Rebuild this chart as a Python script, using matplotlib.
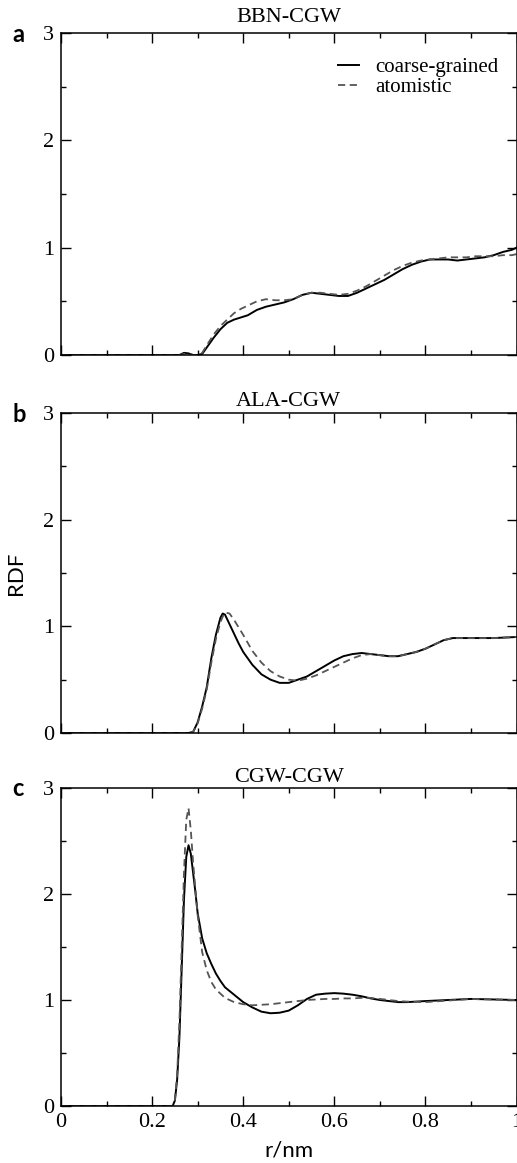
import matplotlib
matplotlib.use("Agg")
import matplotlib.pyplot as plt
from matplotlib.ticker import MultipleLocator

# ---- data ----
r_a = [0, 0.26, 0.27, 0.28, 0.29, 0.30, 0.31, 0.32, 0.335, 0.35, 0.365, 0.38, 0.395, 0.41,
       0.43, 0.45, 0.47, 0.49, 0.51, 0.53, 0.55, 0.57, 0.59, 0.61, 0.63, 0.65, 0.67, 0.69,
       0.71, 0.73, 0.75, 0.77, 0.79, 0.81, 0.83, 0.85, 0.87, 0.89, 0.91, 0.93, 0.95, 0.97,
       0.99, 1.0]
cg_a = [0, 0, 0.02, 0.015, 0.0, 0.0, 0.01, 0.07, 0.16, 0.24, 0.30, 0.33, 0.35, 0.37,
        0.42, 0.45, 0.47, 0.49, 0.52, 0.56, 0.58, 0.57, 0.56, 0.55, 0.55, 0.58, 0.62, 0.66,
        0.70, 0.75, 0.80, 0.84, 0.87, 0.89, 0.89, 0.89, 0.88, 0.89, 0.90, 0.91, 0.93, 0.96,
        0.98, 1.0]
at_a = [0, 0, 0.01, 0.01, 0.0, 0.0, 0.02, 0.09, 0.19, 0.27, 0.33, 0.39, 0.43, 0.46,
        0.50, 0.52, 0.51, 0.51, 0.52, 0.56, 0.58, 0.58, 0.57, 0.56, 0.57, 0.60, 0.64, 0.69,
        0.74, 0.79, 0.83, 0.86, 0.88, 0.89, 0.90, 0.91, 0.91, 0.91, 0.92, 0.92, 0.92, 0.93,
        0.93, 0.94]

r_b = [0, 0.28, 0.29, 0.30, 0.31, 0.32, 0.33, 0.34, 0.35, 0.355, 0.36, 0.37, 0.38, 0.39,
       0.40, 0.42, 0.44, 0.46, 0.48, 0.50, 0.52, 0.54, 0.56, 0.58, 0.60, 0.62, 0.64, 0.66,
       0.68, 0.70, 0.72, 0.74, 0.76, 0.78, 0.80, 0.82, 0.84, 0.86, 0.90, 0.95, 1.0]
cg_b = [0, 0, 0.01, 0.10, 0.25, 0.43, 0.70, 0.92, 1.08, 1.12, 1.11, 1.02, 0.93, 0.84,
        0.76, 0.64, 0.55, 0.50, 0.47, 0.47, 0.50, 0.53, 0.58, 0.63, 0.68, 0.72, 0.74, 0.75,
        0.74, 0.73, 0.72, 0.72, 0.74, 0.76, 0.79, 0.83, 0.87, 0.89, 0.89, 0.89, 0.90]
at_b = [0, 0, 0.01, 0.09, 0.23, 0.41, 0.66, 0.88, 1.04, 1.09, 1.13, 1.12, 1.06, 0.99,
        0.92, 0.77, 0.66, 0.58, 0.53, 0.50, 0.49, 0.51, 0.54, 0.58, 0.62, 0.66, 0.70, 0.73,
        0.74, 0.73, 0.72, 0.72, 0.74, 0.76, 0.79, 0.83, 0.87, 0.89, 0.89, 0.89, 0.90]

r_c = [0, 0.245, 0.25, 0.255, 0.26, 0.265, 0.27, 0.275, 0.28, 0.285, 0.29, 0.295, 0.30,
       0.31, 0.32, 0.33, 0.34, 0.35, 0.36, 0.38, 0.40, 0.42, 0.44, 0.46, 0.48, 0.50, 0.52,
       0.54, 0.56, 0.58, 0.60, 0.62, 0.64, 0.66, 0.68, 0.70, 0.72, 0.74, 0.76, 0.80, 0.85,
       0.90, 0.95, 1.0]
cg_c = [0, 0, 0.05, 0.25, 0.65, 1.30, 1.95, 2.35, 2.46, 2.38, 2.20, 2.02, 1.82,
        1.58, 1.44, 1.34, 1.25, 1.18, 1.12, 1.05, 0.98, 0.93, 0.89, 0.875, 0.88, 0.90, 0.95,
        1.01, 1.05, 1.06, 1.065, 1.06, 1.05, 1.035, 1.015, 1.00, 0.99, 0.98, 0.98, 0.99, 1.00,
        1.01, 1.005, 1.00]
at_c = [0, 0, 0.05, 0.30, 0.80, 1.50, 2.20, 2.70, 2.81, 2.60, 2.30, 2.05, 1.80,
        1.45, 1.28, 1.17, 1.10, 1.06, 1.02, 0.98, 0.96, 0.95, 0.955, 0.96, 0.97, 0.98, 0.99,
        1.00, 1.005, 1.01, 1.01, 1.015, 1.015, 1.02, 1.02, 1.01, 1.0, 0.99, 0.985, 0.98, 0.995,
        1.01, 1.005, 1.00]

titles = ["BBN-CGW", "ALA-CGW", "CGW-CGW"]
letters = ["a", "b", "c"]
panels = [(r_a, cg_a, at_a), (r_b, cg_b, at_b), (r_c, cg_c, at_c)]

SERIF = "Liberation Serif"
SANS = "Lato"

W, H = 517, 1163
fig = plt.figure(figsize=(W / 100, H / 100), dpi=100)

# axes boxes in pixels: (top, bottom)
boxes = [(33, 355), (413, 733), (788, 1106)]
x0, x1 = 61, 516.5
title_pads = [8, 5, 4]

for i, ((top, bot), (r, cg, at)) in enumerate(zip(boxes, panels)):
    ax = fig.add_axes([x0 / W, 1 - bot / H, (x1 - x0) / W, (bot - top) / H])
    ax.plot(r, cg, color="black", lw=1.4, label="coarse-grained")
    ax.plot(r, at, color="#555555", lw=1.3, ls=(0, (4, 2.5)), label="atomistic")
    ax.set_xlim(0, 1)
    ax.set_ylim(0, 3)
    ax.xaxis.set_major_locator(MultipleLocator(0.2))
    ax.xaxis.set_minor_locator(MultipleLocator(0.1))
    ax.yaxis.set_major_locator(MultipleLocator(1))
    ax.yaxis.set_minor_locator(MultipleLocator(0.5))
    ax.tick_params(which="both", direction="in", top=True, right=True, width=1.0)
    ax.tick_params(which="major", length=7, pad=5)
    ax.tick_params(which="minor", length=3.5)
    for s in ax.spines.values():
        s.set_linewidth(1.1)
    for lab in ax.get_yticklabels():
        lab.set_fontfamily(SERIF)
        lab.set_fontsize(16)
    if i < 2:
        ax.set_xticklabels([])
    else:
        ax.set_xticks([0, 0.2, 0.4, 0.6, 0.8, 1.0])
        ax.set_xticklabels(["0", "0.2", "0.4", "0.6", "0.8", "1"], fontfamily=SERIF, fontsize=16)
        ax.set_xlabel("r/nm", fontfamily=SANS, fontsize=16, labelpad=6)
    ax.set_title(titles[i], fontfamily=SERIF, fontsize=16, pad=title_pads[i])
    fig.text(12 / W, 1 - (top + 1) / H, letters[i], fontfamily=SANS, fontweight="bold",
             fontsize=17, ha="left", va="center")
    if i == 0:
        ax.legend(loc="upper left", bbox_to_anchor=(0.585, 0.955), frameon=False,
                  prop={"family": SERIF, "size": 15}, handlelength=1.0,
                  handletextpad=0.8, labelspacing=0.0, borderpad=0)
    if i == 1:
        ax.set_ylabel("RDF", fontfamily=SANS, fontsize=16, labelpad=12)

fig.savefig("out.png", dpi=100)
